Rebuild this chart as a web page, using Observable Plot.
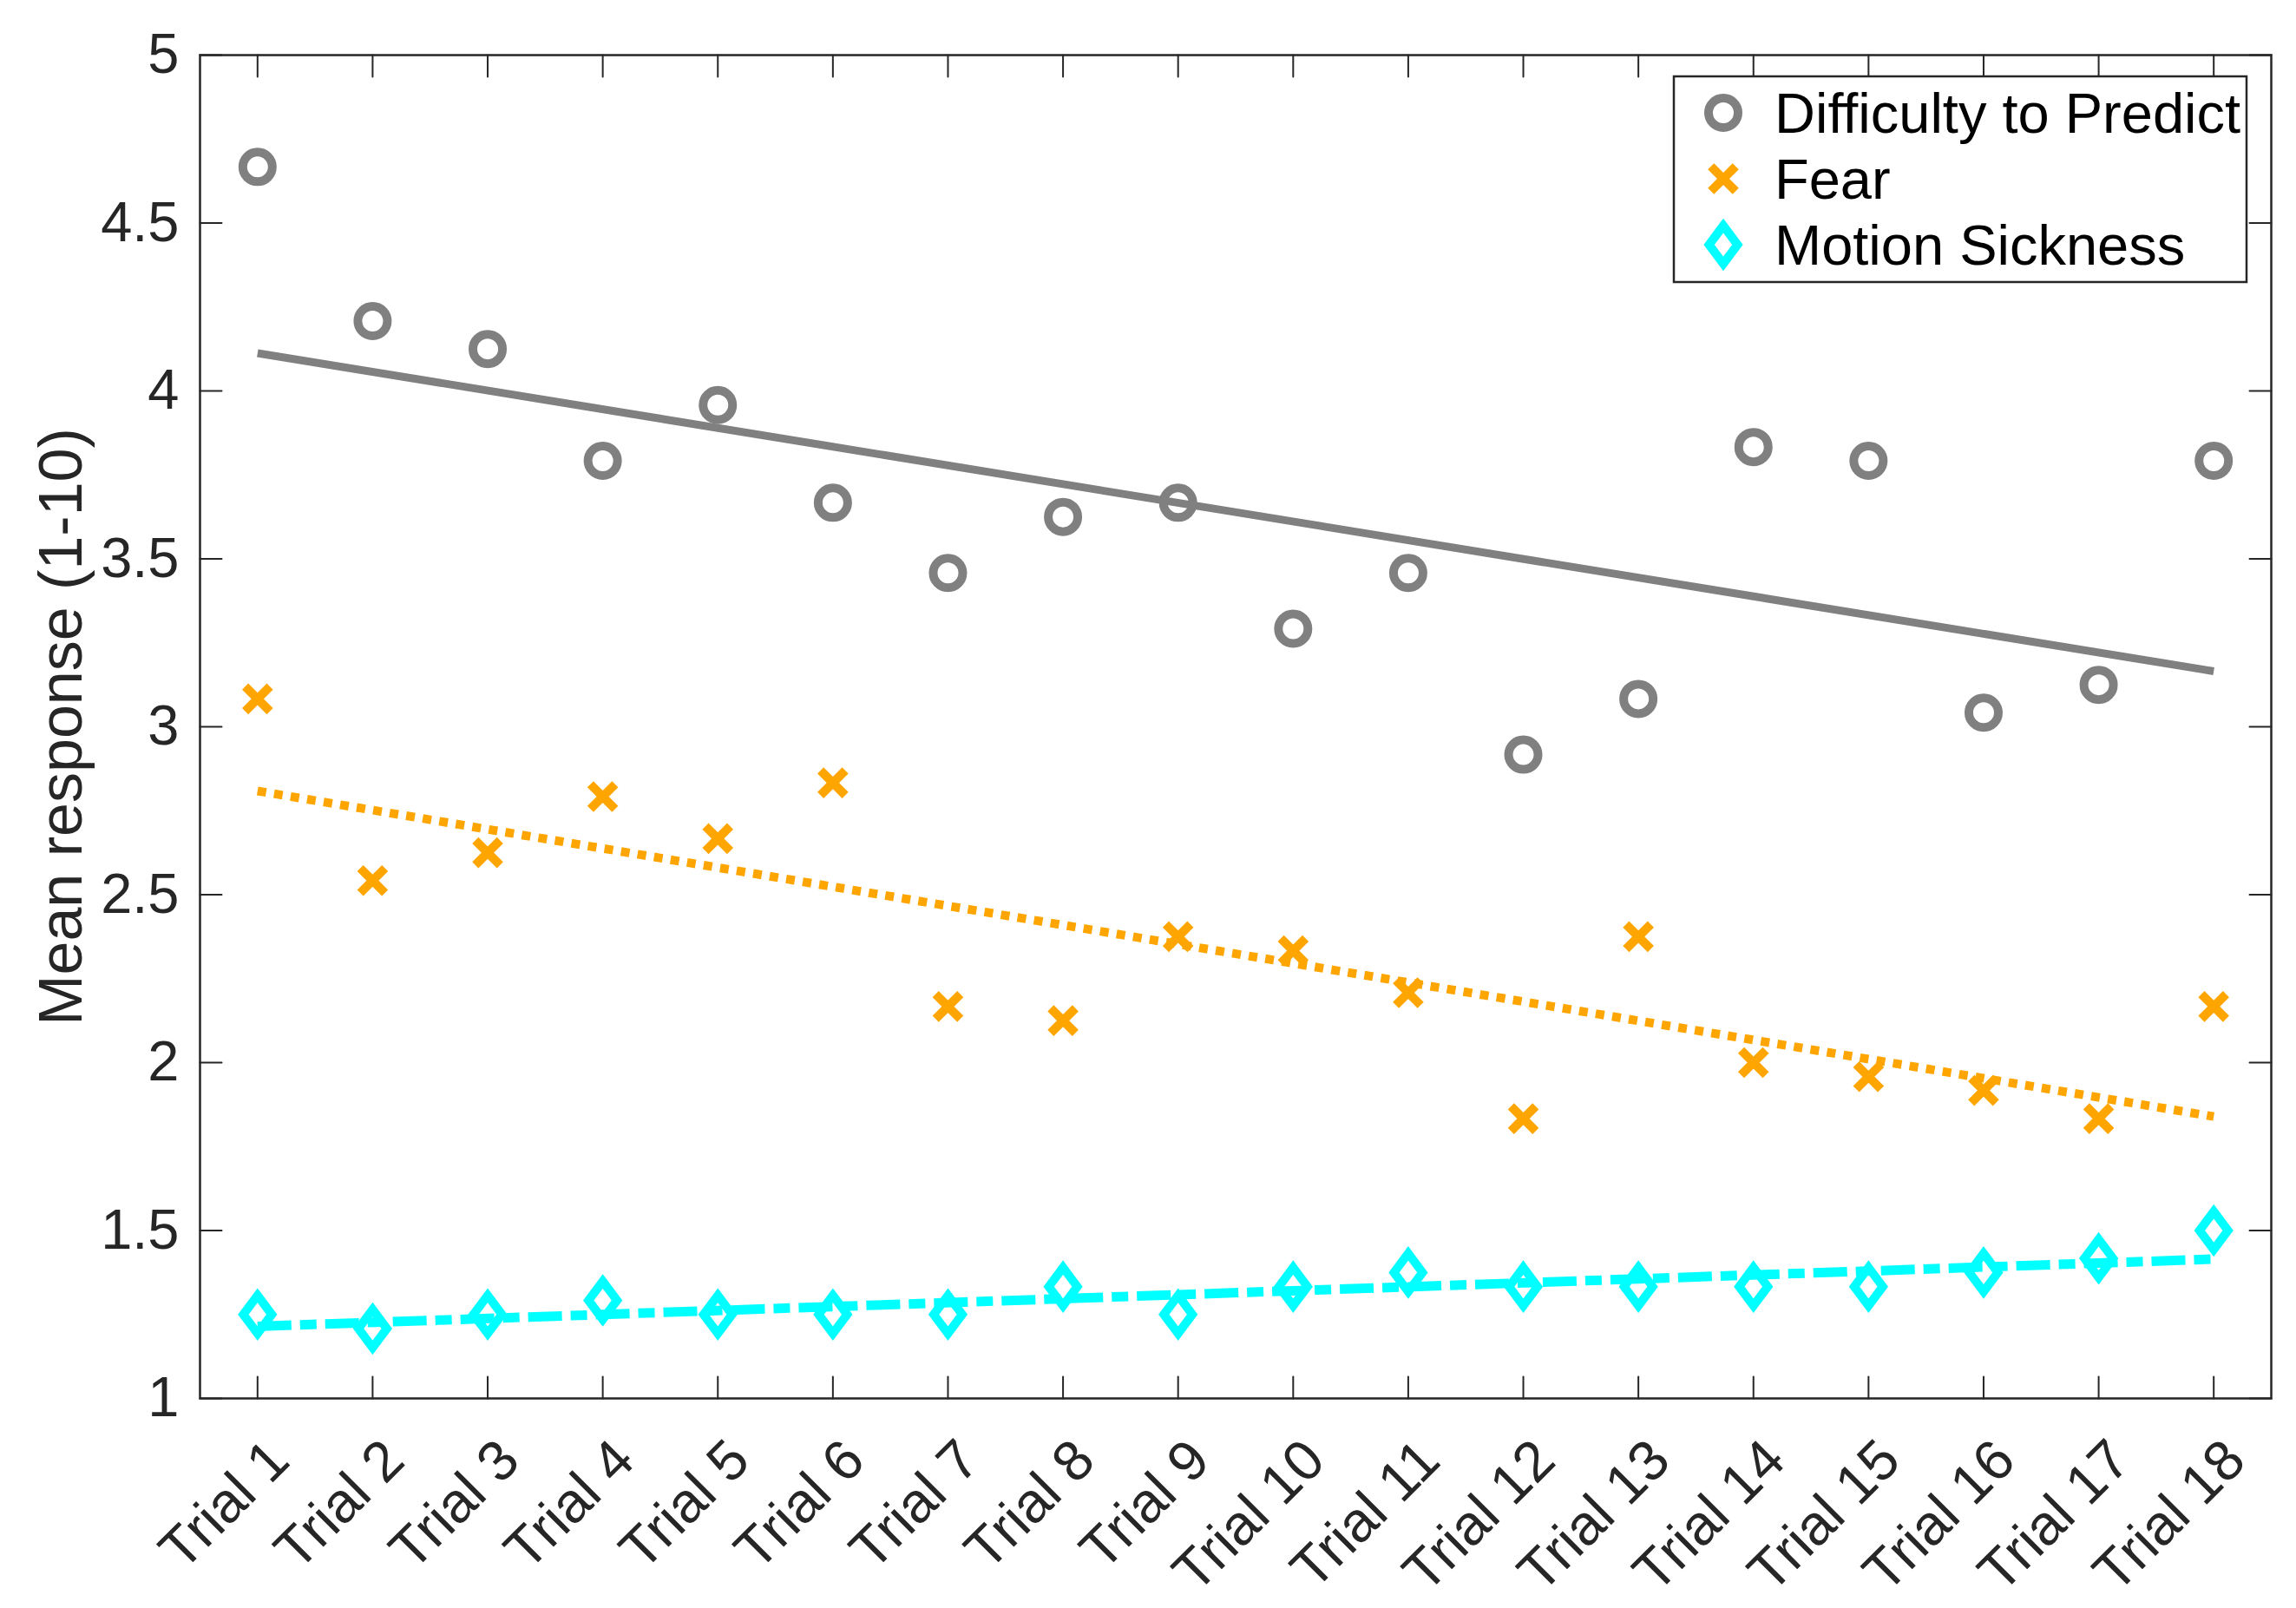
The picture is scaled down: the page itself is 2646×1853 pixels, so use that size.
<!DOCTYPE html>
<html>
<head>
<meta charset="utf-8">
<script src="https://cdn.jsdelivr.net/npm/d3@7"></script>
<script src="https://cdn.jsdelivr.net/npm/@observablehq/plot@0.6"></script>
<style>
  html, body { margin: 0; padding: 0; background: #fff; overflow: hidden; }
  svg { display: block; }
</style>
</head>
<body>
<div id="chart"></div>
<script>
// ---------- data ----------
const trials = ["Trial 1", "Trial 2", "Trial 3", "Trial 4", "Trial 5", "Trial 6", "Trial 7", "Trial 8", "Trial 9",
  "Trial 10", "Trial 11", "Trial 12", "Trial 13", "Trial 14", "Trial 15", "Trial 16", "Trial 17", "Trial 18"];
const difficulty = [4.667, 4.208, 4.125, 3.792, 3.958, 3.667, 3.458, 3.625, 3.667,
  3.292, 3.458, 2.917, 3.083, 3.833, 3.792, 3.042, 3.125, 3.792];
const fear = [3.083, 2.542, 2.625, 2.792, 2.667, 2.833, 2.167, 2.125, 2.375,
  2.333, 2.208, 1.833, 2.375, 2.000, 1.958, 1.917, 1.833, 2.167];
const motionSickness = [1.250, 1.208, 1.250, 1.292, 1.250, 1.250, 1.250, 1.333, 1.250,
  1.333, 1.375, 1.333, 1.333, 1.333, 1.333, 1.375, 1.417, 1.500];
const yTicks = [1, 1.5, 2, 2.5, 3, 3.5, 4, 4.5, 5];
const seriesNames = ["Difficulty to Predict", "Fear", "Motion Sickness"];
const seriesColors = ["#808080", "#FFA500", "#00FFFF"];
const yLabel = "Mean response (1-10)";

// ---------- layout ----------
const W = 2646, H = 1853;
const M = {top: 63, right: 29, bottom: 242, left: 230};
const FONT = 65;
const AXIS = "#262626";

const rows = trials.map((t, k) => ({
  idx: k + 1, trial: t,
  difficulty: difficulty[k], fear: fear[k], motion: motionSickness[k]
}));
const idxs = rows.map(d => d.idx);

// custom tall diamond (MATLAB style)
const diamondSymbol = {
  draw(ctx, size) {
    const r = Math.sqrt(size / Math.PI), w = r * 0.745;
    ctx.moveTo(0, -r); ctx.lineTo(w, 0); ctx.lineTo(0, r); ctx.lineTo(-w, 0); ctx.closePath();
  }
};
// inward tick shape for vectors
const tickShape = { draw(ctx, l) { ctx.moveTo(0, 0); ctx.lineTo(0, -l); } };
const TICK = 25;
const R_CIRCLE = 17, R_TIMES = 13, R_DIAMOND = 22;
const MW = 10; // marker stroke width

const chart = Plot.plot({
  width: W, height: H,
  marginTop: M.top, marginRight: M.right, marginBottom: M.bottom, marginLeft: M.left,
  style: {fontFamily: "'Liberation Sans', Arial, Helvetica, sans-serif", fontSize: FONT + "px", background: "#fff", overflow: "visible"},
  x: {domain: [0.5, 18.5], axis: null},
  y: {domain: [1, 5], axis: null},
  marks: [
    // scatter
    Plot.dot(rows, {x: "idx", y: "difficulty", symbol: "circle", r: R_CIRCLE, stroke: seriesColors[0], strokeWidth: MW, fill: "none"}),
    Plot.dot(rows, {x: "idx", y: "fear", symbol: "times", r: R_TIMES, stroke: seriesColors[1], strokeWidth: MW, strokeLinecap: "butt"}),
    Plot.dot(rows, {x: "idx", y: "motion", symbol: diamondSymbol, r: R_DIAMOND, stroke: seriesColors[2], strokeWidth: MW, fill: "none", strokeLinejoin: "miter"}),
    // linear fits
    Plot.linearRegressionY(rows, {x: "idx", y: "difficulty", stroke: seriesColors[0], strokeWidth: 9, strokeLinecap: "butt", ci: 0}),
    Plot.linearRegressionY(rows, {x: "idx", y: "fear", stroke: seriesColors[1], strokeWidth: 10, strokeDasharray: "10,9.3", strokeLinecap: "butt", ci: 0}),
    Plot.linearRegressionY(rows, {x: "idx", y: "motion", stroke: seriesColors[2], strokeWidth: 11, strokeDasharray: "39,10,19,10", strokeLinecap: "butt", ci: 0}),
    // inward ticks on all four sides
    Plot.vector(idxs, {x: d => d, frameAnchor: "bottom", length: TICK, rotate: 0, anchor: "start", shape: tickShape, stroke: AXIS, strokeWidth: 2}),
    Plot.vector(idxs, {x: d => d, frameAnchor: "top", length: TICK, rotate: 180, anchor: "start", shape: tickShape, stroke: AXIS, strokeWidth: 2}),
    Plot.vector(yTicks, {y: d => d, frameAnchor: "left", length: TICK, rotate: 90, anchor: "start", shape: tickShape, stroke: AXIS, strokeWidth: 2}),
    Plot.vector(yTicks, {y: d => d, frameAnchor: "right", length: TICK, rotate: -90, anchor: "start", shape: tickShape, stroke: AXIS, strokeWidth: 2}),
    // y tick labels
    Plot.text(yTicks, {y: d => d, text: d => String(d), frameAnchor: "left", dx: -24, textAnchor: "end", lineAnchor: "middle", fontSize: FONT, fill: AXIS}),
    // x tick labels (rotated)
    Plot.text(rows, {x: "idx", text: "trial", frameAnchor: "bottom", dx: 25, dy: 60, rotate: -45, textAnchor: "end", lineAnchor: "middle", fontSize: FONT, fill: AXIS}),
    // y axis label
    Plot.text([yLabel], {text: d => d, frameAnchor: "left", dx: -159, rotate: -90, textAnchor: "middle", lineAnchor: "middle", fontSize: 70, fill: AXIS}),
    Plot.frame({stroke: AXIS, strokeWidth: 2.5})
  ]
});

document.getElementById("chart").appendChild(chart);

// ---------- legend (inside axes, top-right) ----------
const svg = d3.select(chart);
const lg = svg.append("g").attr("class", "legend").attr("text-anchor", "start");
const box = {x: 1929, y: 88, w: 660, h: 237};
lg.append("rect").attr("x", box.x).attr("y", box.y).attr("width", box.w).attr("height", box.h)
  .attr("fill", "#fff").attr("stroke", AXIS).attr("stroke-width", 2.5);
const rowY = [130, 206, 282];
const markerX = 1986, textX = 2045;
const symPaths = [
  d3.symbol(d3.symbolCircle, Math.PI * R_CIRCLE * R_CIRCLE)(),
  d3.symbol(d3.symbolTimes, Math.PI * R_TIMES * R_TIMES)(),
  d3.symbol(diamondSymbol, Math.PI * R_DIAMOND * R_DIAMOND)()
];
seriesNames.forEach((name, i) => {
  lg.append("path").attr("d", symPaths[i]).attr("transform", `translate(${markerX},${rowY[i]})`)
    .attr("fill", "none").attr("stroke", seriesColors[i]).attr("stroke-width", MW)
    .attr("stroke-linejoin", "miter").attr("stroke-linecap", "butt");
  lg.append("text").attr("x", textX).attr("y", rowY[i]).attr("dy", "0.36em")
    .attr("text-anchor", "start").attr("font-size", FONT).attr("fill", "#000").text(name);
});
</script>
</body>
</html>
